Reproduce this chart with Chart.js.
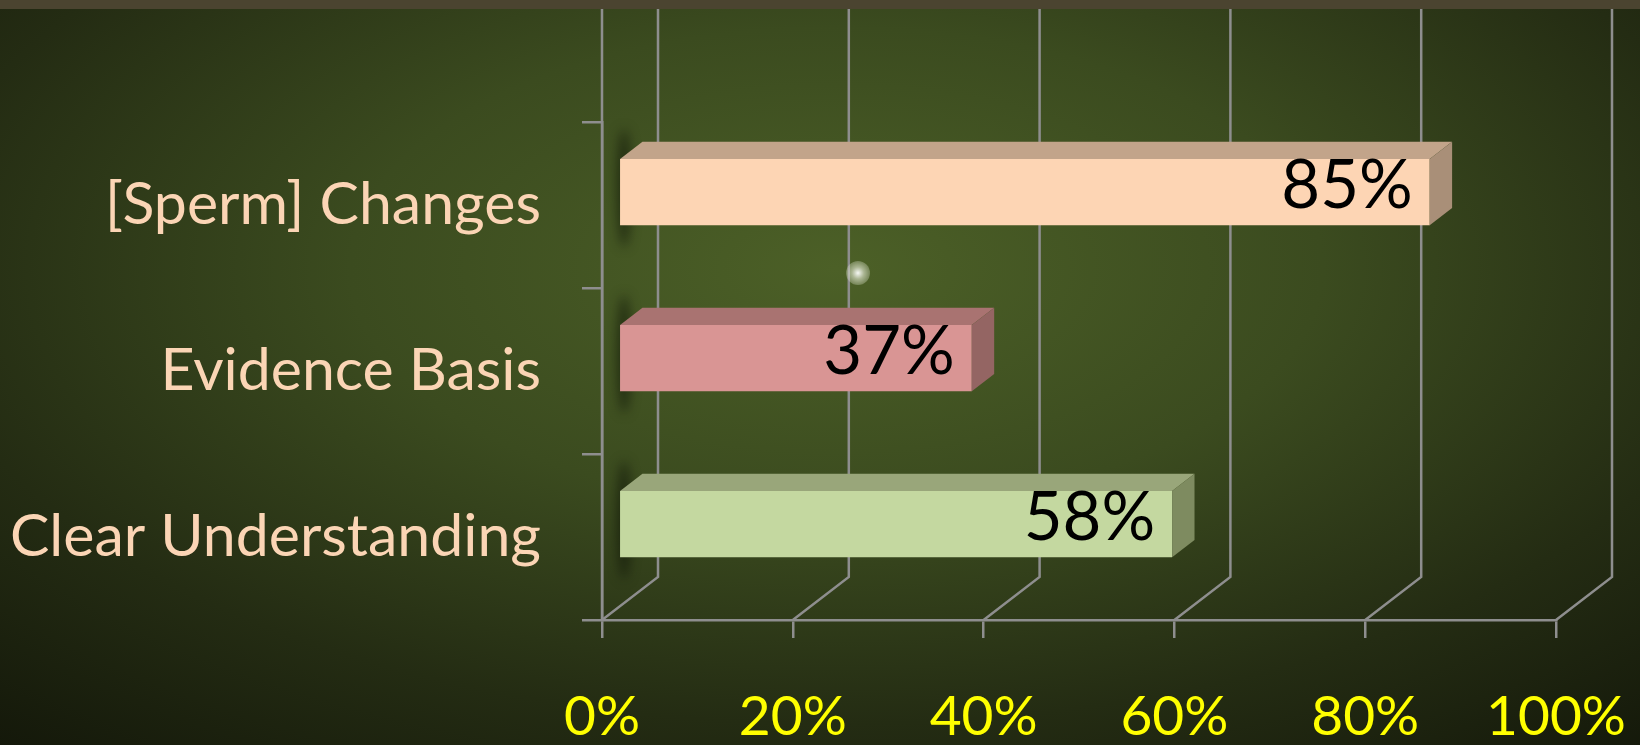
<!DOCTYPE html>
<html>
<head>
<meta charset="utf-8">
<script src="https://cdn.jsdelivr.net/npm/chart.js@4.4.0/dist/chart.umd.min.js"></script>
<style>
html, body { margin: 0; padding: 0; }
body {
  width: 1640px; height: 745px; overflow: hidden; position: relative;
  background: radial-gradient(ellipse 78% 85% at 51% 36%, #4c6027 0%, #3b4b1f 38%, #242c13 72%, #14180a 100%);
}
#topbar { position: absolute; left: 0; top: 0; width: 1640px; height: 9px; background: #4b4430; z-index: 2; }
#glint {
  position: absolute; left: 846px; top: 261px; width: 24px; height: 24px; border-radius: 50%;
  background: radial-gradient(circle, rgba(255,255,255,0.95) 0%, rgba(235,240,220,0.6) 35%, rgba(200,210,170,0) 100%);
  z-index: 1;
}
#wrap { position: absolute; left: 0; top: 0; width: 1640px; height: 745px; }
</style>
</head>
<body>
<div id="wrap"><canvas id="chart" width="1640" height="745"></canvas></div>
<div id="glint"></div>
<div id="topbar"></div>
<script>
const categories = ['[Sperm] Changes', 'Evidence Basis', 'Clear Understanding'];
const values = [85, 37, 58];
const tickLabels = ['0%', '20%', '40%', '60%', '80%', '100%'];

const frontColors = ['#fdd5b4', '#d99594', '#c4d8a0'];
const topColors = ['#c2a48a', '#a97371', '#99a67a'];
const sideColors = ['#a98f78', '#946563', '#7e8b60'];

// fake 3D: offset of the back wall from the front plane
const DX = 56, DY = 43;
const BAR_FRONT = 0.3, BAR_DEPTH = 0.4;
const LINE = '#8e8e8e';

const bars3d = {
  id: 'bars3d',
  beforeDatasetsDraw(chart) {
    const { ctx, chartArea: a, scales: { x } } = chart;
    ctx.save();
    ctx.strokeStyle = LINE;
    ctx.lineWidth = 2.5;
    // floor diagonals and back wall gridlines
    x.ticks.forEach(t => {
      const px = x.getPixelForValue(t.value);
      ctx.beginPath();
      ctx.moveTo(px, a.bottom);
      ctx.lineTo(px + DX, a.bottom - DY);
      ctx.lineTo(px + DX, 0);
      ctx.stroke();
    });
    ctx.beginPath();
    ctx.moveTo(a.left, a.bottom);
    ctx.lineTo(a.left, 0);
    ctx.stroke();

    // soft shadow at the left end of each bar
    const meta = chart.getDatasetMeta(0);
    ctx.filter = 'blur(6px)';
    ctx.fillStyle = 'rgba(12,16,5,0.6)';
    meta.data.forEach(el => {
      const p = el.getProps(['base', 'y', 'height'], true);
      const left = p.base + DX * BAR_FRONT;
      const cy = p.y - DY * BAR_FRONT;
      ctx.beginPath();
      ctx.ellipse(left + 4, cy - 4, 7, p.height / 2 + 26, 0, 0, Math.PI * 2);
      ctx.fill();
    });
    ctx.filter = 'none';
    ctx.restore();

    ctx.save();
    ctx.translate(DX * BAR_FRONT, -DY * BAR_FRONT);
  },
  afterDatasetsDraw(chart) {
    const { ctx } = chart;
    ctx.restore();
    const meta = chart.getDatasetMeta(0);
    const tdx = DX * BAR_DEPTH, tdy = DY * BAR_DEPTH;
    meta.data.forEach((el, i) => {
      const p = el.getProps(['x', 'base', 'y', 'height'], true);
      const left = p.base + DX * BAR_FRONT;
      const right = p.x + DX * BAR_FRONT;
      const top = p.y - p.height / 2 - DY * BAR_FRONT;
      const bottom = p.y + p.height / 2 - DY * BAR_FRONT;

      ctx.fillStyle = topColors[i];
      ctx.beginPath();
      ctx.moveTo(left, top);
      ctx.lineTo(left + tdx, top - tdy);
      ctx.lineTo(right + tdx, top - tdy);
      ctx.lineTo(right, top);
      ctx.closePath();
      ctx.fill();

      ctx.fillStyle = sideColors[i];
      ctx.beginPath();
      ctx.moveTo(right, top);
      ctx.lineTo(right + tdx, top - tdy);
      ctx.lineTo(right + tdx, bottom - tdy);
      ctx.lineTo(right, bottom);
      ctx.closePath();
      ctx.fill();

      ctx.fillStyle = '#000';
      ctx.font = '67px Lato';
      ctx.textAlign = 'right';
      ctx.textBaseline = 'middle';
      ctx.fillText(values[i] + '%', right - 17, (top + bottom) / 2 - 6);
    });
  }
};

new Chart(document.getElementById('chart'), {
  type: 'bar',
  data: {
    labels: categories,
    datasets: [{
      data: values,
      backgroundColor: frontColors,
      borderWidth: 0,
      categoryPercentage: 1,
      barPercentage: 0.4
    }]
  },
  options: {
    indexAxis: 'y',
    responsive: false,
    animation: false,
    layout: { padding: { top: 122, right: 84, bottom: 0, left: 0 } },
    plugins: { legend: { display: false }, tooltip: { enabled: false } },
    scales: {
      x: {
        min: 0,
        max: 100,
        ticks: {
          stepSize: 20,
          autoSkip: false,
          maxRotation: 0,
          color: '#ffff00',
          font: { family: 'Lato', size: 55 },
          padding: 46,
          callback: (v, i) => tickLabels[i]
        },
        grid: { drawOnChartArea: false, tickLength: 18, tickColor: LINE, lineWidth: 2.5 },
        border: { color: LINE, width: 2.5 },
        afterFit(s) {
          s.height = 125;
          s.paddingLeft = 0;
          s.paddingRight = 0;
        }
      },
      y: {
        ticks: {
          color: '#fbd5b5',
          font: { family: 'Lato', size: 59 },
          padding: 41
        },
        grid: { drawOnChartArea: false, tickLength: 20, tickColor: LINE, lineWidth: 2.5 },
        border: { color: LINE, width: 2.5 },
        afterFit(s) {
          s.width = 602;
          s.paddingTop = 0;
          s.paddingBottom = 0;
        }
      }
    }
  },
  plugins: [bars3d]
});
</script>
</body>
</html>
